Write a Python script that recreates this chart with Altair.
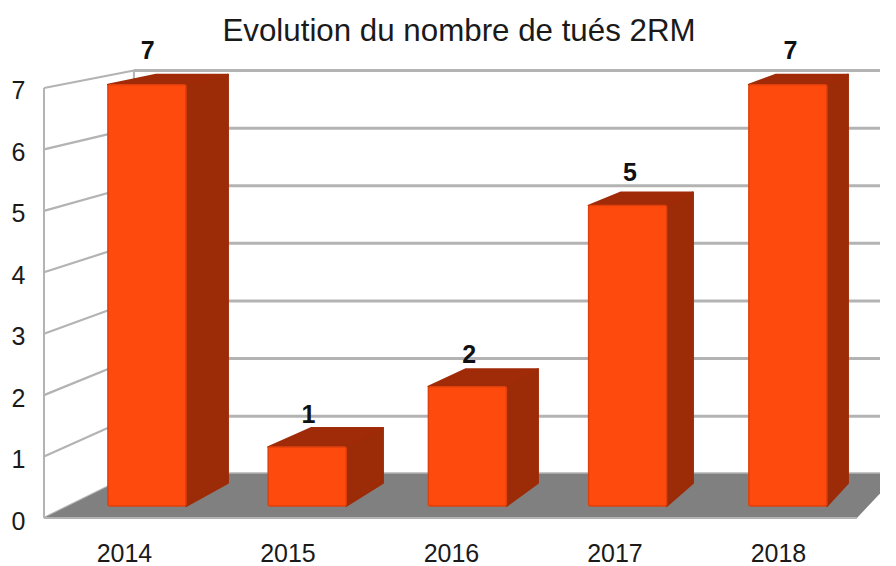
import altair as alt
import pandas as pd

# Chart values
years = [2014, 2015, 2016, 2017, 2018]
deaths = [7, 1, 2, 5, 7]
title = "Evolution du nombre de tués 2RM"
y_ticks = [0, 1, 2, 3, 4, 5, 6, 7]

# Projection of the 3D scene on the scales (year / value units)
def front_top(v): return 0.171 + 0.983 * v
def back_top(v): return 0.505 + 0.9588 * v
def wall_back(v): return 0.72 + 0.9377 * v
FRONT_BASE, BACK_BASE = 0.195, 0.57
X_FRONT_WALL, X_BACK_WALL, X_FLOOR_RIGHT, X_END = 2013.511, 2014.061, 2018.483, 2018.624
X_MIN, Y_MAX = X_FRONT_WALL, 7.553

front_rows, side_rows, top_rows, label_rows = [], [], [], []
for i, (yr, v) in enumerate(zip(years, deaths)):
    fl = 2013.902 + 0.980 * i
    fr = fl + 0.477
    bl = 2014.196 + 0.948 * i
    br = bl + 0.440
    ft, bt = front_top(v), back_top(v)
    front_rows.append(dict(year=yr, x=fl, x2=fr, y=FRONT_BASE, y2=ft))
    side_rows += [dict(year=yr, x=fr, y=ft, y2=FRONT_BASE), dict(year=yr, x=br, y=bt, y2=BACK_BASE)]
    top_rows += [
        dict(year=yr, x=fl, y=ft, y2=ft),
        dict(year=yr, x=bl, y=bt, y2=ft),
        dict(year=yr, x=fr, y=bt, y2=ft),
        dict(year=yr, x=br, y=bt, y2=bt),
    ]
    label_rows.append(dict(x=2014.145 + 0.983 * i, y=0.684 + 0.988 * v, label=v))

x_scale = alt.Scale(domain=[X_MIN, X_END], nice=False, zero=False)
y_scale = alt.Scale(domain=[0, Y_MAX], nice=False, zero=False)
X = alt.X("x:Q", scale=x_scale, title=None,
          axis=alt.Axis(values=years, format="d", domain=False, ticks=False, grid=False,
                        labelFontSize=25, labelFont="Liberation Sans", labelColor="#1a1a1a",
                        labelPadding=23))
Y = alt.Y("y:Q", scale=y_scale, title=None, stack=None,
          axis=alt.Axis(values=y_ticks, format="d", domain=False, ticks=False, grid=False,
                        labelFontSize=25, labelFont="Liberation Sans", labelColor="#1a1a1a",
                        labelPadding=19, labelOffset=3))

GRID = "#b3b3b3"
back_grid = pd.DataFrame([
    dict(k=t, x=p, y=wall_back(t)) for t in y_ticks for p in (X_BACK_WALL, X_END)
])
slant = pd.DataFrame([
    dict(k=t, x=X_FRONT_WALL, y=t) for t in y_ticks
] + [dict(k=t, x=X_BACK_WALL, y=wall_back(t)) for t in y_ticks])
left_edge = pd.DataFrame([dict(x=X_FRONT_WALL, y=0), dict(x=X_FRONT_WALL, y=7)])
back_edge = pd.DataFrame([dict(x=X_BACK_WALL, y=wall_back(0)), dict(x=X_BACK_WALL, y=wall_back(7))])
front_edge = pd.DataFrame([dict(x=X_FRONT_WALL, y=0), dict(x=X_FLOOR_RIGHT, y=0)])
floor = pd.DataFrame([
    dict(x=X_FRONT_WALL, y=0, y2=0),
    dict(x=X_BACK_WALL, y=wall_back(0), y2=0),
    dict(x=X_FLOOR_RIGHT, y=wall_back(0), y2=0),
    dict(x=X_END, y=wall_back(0), y2=0.4),
])

layers = [
    alt.Chart(back_grid).mark_line(color=GRID, strokeWidth=3).encode(x=X, y=Y, detail="k:N"),
    alt.Chart(slant).mark_line(color=GRID, strokeWidth=2.2).encode(x=X, y=Y, detail="k:N"),
    alt.Chart(back_edge).mark_line(color=GRID, strokeWidth=2).encode(x=X, y=Y),
    alt.Chart(left_edge).mark_line(color=GRID, strokeWidth=2).encode(x=X, y=Y),
    alt.Chart(floor).mark_area(color="#808080").encode(x=X, y=Y, y2="y2:Q"),
    alt.Chart(front_edge).mark_line(color=GRID, strokeWidth=2).encode(x=X, y=Y),
    alt.Chart(pd.DataFrame(side_rows)).mark_area(
        color="#9c2b08", stroke="#9c2b08", strokeWidth=2, strokeJoin="round"
    ).encode(x=X, y=Y, y2="y2:Q", detail="year:N"),
    alt.Chart(pd.DataFrame(top_rows)).mark_area(
        color="#a02b08", stroke="#a02b08", strokeWidth=2, strokeJoin="round"
    ).encode(x=X, y=Y, y2="y2:Q", detail="year:N"),
    alt.Chart(pd.DataFrame(front_rows)).mark_rect(
        color="#ff4a0e", stroke="#e0400c", strokeWidth=1.5, cornerRadius=2
    ).encode(x=X, x2="x2:Q", y=Y, y2="y2:Q"),
    alt.Chart(pd.DataFrame(label_rows)).mark_text(
        font="Liberation Sans", fontSize=25, fontWeight="bold", color="#111111", baseline="middle"
    ).encode(x=X, y=Y, text="label:Q"),
]

chart = alt.layer(*layers).properties(
    width=836, height=464,
    padding={"left": 3, "right": 0, "top": 7, "bottom": 2},
    background="white",
    title=alt.TitleParams(title, font="Liberation Sans", fontSize=31.3, fontWeight="normal",
                          color="#1a1a1a", anchor="middle", dx=-3, offset=-8),
).configure_view(stroke=None)

chart.save("out.html", embed_options={"renderer": "svg", "actions": False})
